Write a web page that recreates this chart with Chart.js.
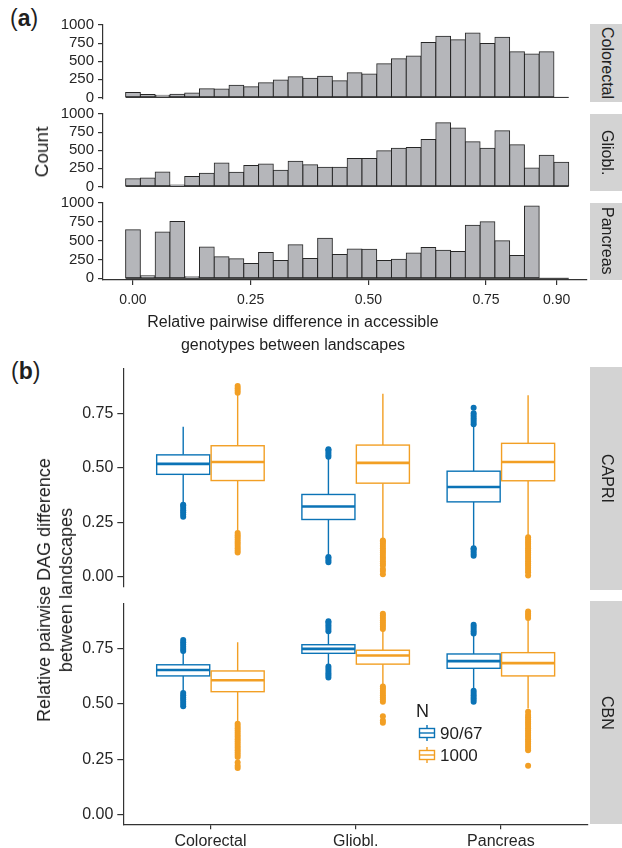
<!DOCTYPE html>
<html>
<head>
<meta charset="utf-8">
<script src="https://cdn.jsdelivr.net/npm/chart.js@4.4.1/dist/chart.umd.min.js"></script>
<style>
  body { margin: 0; width: 622px; height: 848px; position: relative; overflow: hidden; background: #fff;
         font-family: "Liberation Sans", Arial, Helvetica, sans-serif; color: #1f1f1f; }
  canvas { position: absolute; left: 0; }
  .txt { position: absolute; white-space: nowrap; }
  .strip { position: absolute; left: 590px; width: 34px; background: #d3d3d3;
           display: flex; align-items: center; justify-content: center; }
  .strip span { writing-mode: vertical-rl; font-size: 16px; color: #222; }
  .rot { position: absolute; transform: translate(-50%, -50%) rotate(-90deg); text-align: center; white-space: nowrap; }
</style>
</head>
<body>
<div class="txt" style="left:10px;top:7px;font-size:23px;line-height:23px">(<b>a</b>)</div>
<div class="txt" style="left:11px;top:360px;font-size:23px;line-height:23px">(<b>b</b>)</div>

<canvas id="histColorectal" width="590" height="100" style="top:12px"></canvas>
<canvas id="histGliobl" width="590" height="100" style="top:101px"></canvas>
<canvas id="histPancreas" width="590" height="120" style="top:190px"></canvas>
<canvas id="boxCapri" width="592" height="245" style="top:355px"></canvas>
<canvas id="boxCbn" width="592" height="258" style="top:590px"></canvas>

<div class="strip" style="top:24px;height:77.5px"><span>Colorectal</span></div>
<div class="strip" style="top:113.5px;height:77.5px"><span>Gliobl.</span></div>
<div class="strip" style="top:202.5px;height:77.5px"><span>Pancreas</span></div>
<div class="strip" style="top:367.3px;height:223.2px"><span>CAPRI</span></div>
<div class="strip" style="top:601px;height:223.3px"><span>CBN</span></div>

<div class="rot" style="left:42px;top:152px;font-size:19px">Count</div>
<div class="txt" style="left:0;width:586px;top:310px;font-size:16px;line-height:23px;text-align:center">
  Relative pairwise difference in accessible<br>genotypes between landscapes</div>
<div class="rot" style="left:55px;top:590px;font-size:18px;line-height:22px">
  Relative pairwise DAG difference<br>between landscapes</div>

<div class="txt" style="left:416px;top:702px;font-size:18px;line-height:18px">N</div>
<div class="txt" style="left:440px;top:725px;font-size:17px;line-height:17px">90/67</div>
<div class="txt" style="left:440px;top:747px;font-size:17px;line-height:17px">1000</div>

<script>
// (a) histogram bins
const binMids = [0.0000, 0.0314, 0.0628, 0.0941, 0.1255, 0.1569, 0.1883, 0.2197, 0.2510, 0.2824,
                 0.3138, 0.3452, 0.3766, 0.4079, 0.4393, 0.4707, 0.5021, 0.5335, 0.5648, 0.5962,
                 0.6276, 0.6590, 0.6904, 0.7217, 0.7531, 0.7845, 0.8159, 0.8473, 0.8786, 0.9100];
const colorectalCounts = [67, 40, 31, 44, 62, 120, 115, 169, 147, 204, 240, 284, 265, 293, 231,
                          342, 324, 466, 533, 573, 760, 844, 795, 888, 746, 830, 631, 600, 631, 0];
const glioblCounts = [107, 115, 200, 18, 138, 182, 324, 195, 289, 311, 222, 346, 300, 266, 266,
                      386, 386, 493, 528, 537, 648, 879, 808, 617, 528, 768, 577, 253, 431, 333];
const pancreasCounts = [645, 35, 614, 754, 22, 417, 285, 259, 197, 342, 237, 447, 263, 531, 316,
                        390, 386, 237, 254, 338, 408, 373, 355, 706, 750, 500, 303, 961, 0, 0];
const histXTicks = [0, 0.25, 0.5, 0.75, 0.9];
const histYTicks = [0, 250, 500, 750, 1000];

// (b) boxplots: [lower whisker, Q1, median, Q3, upper whisker] per category
const categories = ['Colorectal', 'Gliobl.', 'Pancreas'];
const capriSmall = [[0.336, 0.4695, 0.5175, 0.559, 0.688],
                    [0.095, 0.262, 0.3215, 0.377, 0.540],
                    [0.135, 0.343, 0.411, 0.484, 0.690]];
const capriLarge = [[0.205, 0.441, 0.5265, 0.601, 0.835],
                    [0.170, 0.429, 0.522, 0.604, 0.840],
                    [0.185, 0.440, 0.5265, 0.612, 0.833]];
const cbnSmall = [[0.555, 0.6275, 0.654, 0.678, 0.735],
                  [0.675, 0.730, 0.750, 0.769, 0.820],
                  [0.565, 0.662, 0.6945, 0.727, 0.810]];
const cbnLarge = [[0.420, 0.556, 0.608, 0.650, 0.780],
                  [0.590, 0.681, 0.720, 0.744, 0.835],
                  [0.480, 0.6275, 0.6856, 0.733, 0.880]];
// outliers per category
const capriSmallOut = [[0.275, 0.285, 0.295, 0.305, 0.315, 0.325, 0.33],
                       [0.065, 0.075, 0.085, 0.09, 0.55, 0.56, 0.57, 0.58, 0.585],
                       [0.095, 0.105, 0.115, 0.125, 0.13, 0.70, 0.71, 0.72, 0.73, 0.74, 0.75, 0.775]];
const capriLargeOut = [[0.11, 0.12, 0.13, 0.14, 0.15, 0.16, 0.17, 0.18, 0.19, 0.20, 0.845, 0.855, 0.865, 0.875],
                       [0.01, 0.025, 0.035, 0.05, 0.06, 0.07, 0.08, 0.09, 0.10, 0.11, 0.12, 0.13, 0.14, 0.15, 0.16, 0.165],
                       [0.005, 0.02, 0.03, 0.04, 0.05, 0.06, 0.07, 0.08, 0.09, 0.10, 0.11, 0.12, 0.13, 0.14, 0.15, 0.16, 0.17, 0.18]];
const cbnSmallOut = [[0.49, 0.50, 0.51, 0.52, 0.53, 0.54, 0.55, 0.74, 0.75, 0.76, 0.77, 0.78, 0.79],
                     [0.62, 0.63, 0.64, 0.65, 0.66, 0.67, 0.83, 0.84, 0.85, 0.86, 0.87, 0.875],
                     [0.51, 0.52, 0.53, 0.54, 0.55, 0.56, 0.82, 0.83, 0.84, 0.85, 0.86]];
const cbnLargeOut = [[0.21, 0.22, 0.235, 0.26, 0.27, 0.28, 0.29, 0.30, 0.31, 0.32, 0.33, 0.34, 0.35, 0.36, 0.37, 0.38, 0.39, 0.40, 0.41],
                     [0.415, 0.425, 0.445, 0.51, 0.52, 0.53, 0.54, 0.55, 0.56, 0.57, 0.58, 0.84, 0.85, 0.86, 0.87, 0.88, 0.89, 0.90, 0.91],
                     [0.22, 0.29, 0.30, 0.31, 0.32, 0.33, 0.34, 0.35, 0.36, 0.37, 0.38, 0.39, 0.40, 0.41, 0.42, 0.43, 0.44, 0.45, 0.465, 0.89, 0.90, 0.91, 0.92]];
const boxYTicks = [0, 0.25, 0.5, 0.75];

const blue = '#0b73b6';
const orange = '#f29f24';
const axisCol = '#333';
const boxHalf = 0.1875;

Chart.defaults.font.family = '"Liberation Sans", Arial, sans-serif';
Chart.defaults.color = '#262626';

function makeAxis(opts) {
  const shown = opts.display !== false;
  return {
    type: 'linear',
    display: shown,
    min: opts.min, max: opts.max, offset: false,
    afterBuildTicks: ax => { ax.ticks = opts.ticks.map(v => ({ value: v })); },
    afterFit: ax => {
      if (!shown) return;
      if (opts.width) ax.width = opts.width;
      if (opts.height) ax.height = opts.height;
    },
    grid: { drawOnChartArea: false, drawTicks: true, tickLength: opts.tickLen, color: axisCol, lineWidth: 1.2, offset: false },
    border: { display: true, color: axisCol, width: 1.2 },
    ticks: { font: { size: opts.size }, padding: opts.pad, autoSkip: false, maxRotation: 0, callback: opts.fmt }
  };
}

// baseline under the histogram bins (zero-height bins still show their edge)
const baseline = {
  id: 'baseline',
  afterDatasetsDraw(chart) {
    const { ctx, scales: { x, y } } = chart;
    const half = (binMids[1] - binMids[0]) / 2;
    ctx.save();
    ctx.strokeStyle = '#262626';
    ctx.lineWidth = 1;
    ctx.beginPath();
    ctx.moveTo(x.getPixelForValue(binMids[0] - half), y.getPixelForValue(0));
    ctx.lineTo(x.getPixelForValue(binMids[binMids.length - 1] + half), y.getPixelForValue(0));
    ctx.stroke();
    ctx.restore();
  }
};

function histChart(id, counts, pad, showX) {
  new Chart(document.getElementById(id), {
    type: 'bar',
    data: {
      datasets: [{
        data: binMids.map((x, i) => ({ x, y: counts[i] })),
        backgroundColor: '#b5b6ba',
        borderColor: '#262626',
        borderWidth: 1,
        borderSkipped: false,
        inflateAmount: 0.5,
        barPercentage: 1,
        categoryPercentage: 1
      }]
    },
    options: {
      responsive: false,
      animation: false,
      layout: { padding: pad },
      plugins: { legend: { display: false }, tooltip: { enabled: false } },
      scales: {
        x: makeAxis({ display: showX, min: -0.0637, max: 0.9645, ticks: histXTicks, tickLen: 5, pad: 7,
                      size: 14, height: 30, fmt: v => v.toFixed(2) }),
        y: makeAxis({ min: -22, max: 1000, ticks: histYTicks, tickLen: 5, pad: 4, size: 15, width: 103,
                      fmt: v => String(v) })
      }
    },
    plugins: [baseline]
  });
}

histChart('histColorectal', colorectalCounts, { top: 12, bottom: 10.5, left: 0, right: 3 }, false);
histChart('histGliobl', glioblCounts, { top: 12.5, bottom: 10, left: 0, right: 3 }, false);
histChart('histPancreas', pancreasCounts, { top: 12.5, bottom: 0, left: 0, right: 3 }, true);

function outlierData(outs, shift) {
  const pts = [];
  outs.forEach((vals, i) => vals.forEach(v => pts.push({ x: i + 1 + shift, y: v })));
  return pts;
}

function drawBox(ctx, xl, xr, xm, lo, q1, md, q3, hi, medWidth) {
  ctx.lineWidth = 1.4;
  ctx.beginPath();
  ctx.moveTo(xm, hi); ctx.lineTo(xm, q3);
  ctx.moveTo(xm, q1); ctx.lineTo(xm, lo);
  ctx.stroke();
  ctx.fillStyle = '#fff';
  ctx.fillRect(xl, q3, xr - xl, q1 - q3);
  ctx.strokeRect(xl, q3, xr - xl, q1 - q3);
  ctx.lineWidth = medWidth;
  ctx.beginPath(); ctx.moveTo(xl, md); ctx.lineTo(xr, md); ctx.stroke();
}

function boxPlugin(groups, withLegend) {
  return {
    id: 'boxes',
    beforeDatasetsDraw(chart) {
      const { ctx, scales: { x, y } } = chart;
      ctx.save();
      groups.forEach(g => {
        ctx.strokeStyle = g.color;
        g.stats.forEach((s, i) => {
          const c = i + 1 + g.shift;
          const px = s.map(v => y.getPixelForValue(v));
          drawBox(ctx, x.getPixelForValue(c - boxHalf) + 0.7, x.getPixelForValue(c + boxHalf) - 0.7,
                  x.getPixelForValue(c), px[0], px[1], px[2], px[3], px[4], 2.6);
        });
      });
      ctx.restore();
    },
    afterDraw(chart) {
      if (!withLegend) return;
      const ctx = chart.ctx;
      const top = chart.canvas.offsetTop;
      ctx.save();
      [[725, blue], [747, orange]].forEach(([ky, col]) => {
        const y0 = ky - top;
        ctx.strokeStyle = col;
        drawBox(ctx, 419.5, 434.5, 427, y0 + 16, y0 + 12.5, y0 + 8, y0 + 3.5, y0, 1.4);
      });
      ctx.restore();
    }
  };
}

function boxChart(id, small, large, smallOut, largeOut, pad, showX, withLegend) {
  new Chart(document.getElementById(id), {
    type: 'scatter',
    data: {
      datasets: [
        { data: outlierData(smallOut, -boxHalf), backgroundColor: blue, borderWidth: 0, pointRadius: 3 },
        { data: outlierData(largeOut, boxHalf), backgroundColor: orange, borderWidth: 0, pointRadius: 3 }
      ]
    },
    options: {
      responsive: false,
      animation: false,
      layout: { padding: pad },
      plugins: { legend: { display: false }, tooltip: { enabled: false } },
      scales: {
        x: makeAxis({ display: showX, min: 0.4, max: 3.6, ticks: [1, 2, 3], tickLen: 5, pad: 3,
                      size: 16, height: 23.7, fmt: v => categories[v - 1] }),
        y: makeAxis({ min: -0.0455, max: 0.9555, ticks: boxYTicks, tickLen: 6, pad: 4, size: 16,
                      width: 123.3, fmt: v => v.toFixed(2) })
      }
    },
    plugins: [boxPlugin([{ stats: small, shift: -boxHalf, color: blue },
                         { stats: large, shift: boxHalf, color: orange }], withLegend)]
  });
}

boxChart('boxCapri', capriSmall, capriLarge, capriSmallOut, capriLargeOut,
         { top: 12.3, bottom: 9.5, left: 0, right: 2.7 }, false, false);
boxChart('boxCbn', cbnSmall, cbnLarge, cbnSmallOut, cbnLargeOut,
         { top: 11, bottom: 0, left: 0, right: 2.7 }, true, true);
</script>
</body>
</html>
